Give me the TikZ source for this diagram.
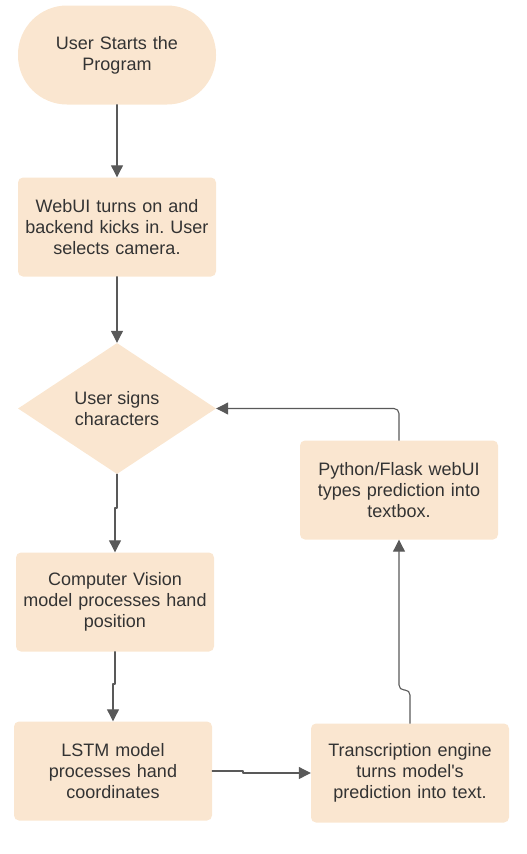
\documentclass[tikz,border=0pt]{standalone}
\usepackage{fontspec}
\setmainfont{Liberation Sans}
\usetikzlibrary{shapes.geometric,arrows.meta}
\definecolor{boxfill}{HTML}{FAE6D0}
\definecolor{inkgrey}{HTML}{333333}
\definecolor{linegrey}{HTML}{595959}
\frenchspacing
\begin{document}
\begin{tikzpicture}[x=1pt,y=-1pt,line join=round,line cap=round,
  font=\fontsize{18}{21}\selectfont,
  flowbox/.style={draw=none,fill=boxfill,text=inkgrey,rounded corners=5pt,
    minimum width=198pt,minimum height=99pt,text width=194pt,align=center,inner sep=0pt},
  startbox/.style={flowbox,rounded corners=49pt},
  choice/.style={diamond,draw=none,fill=boxfill,text=inkgrey,
    minimum width=198pt,minimum height=131pt,inner sep=0pt,align=center},
  flow/.style={draw=linegrey,line width=1.1pt,
    -{Triangle[length=12pt,width=12pt]}}]

  \useasboundingbox (0,0) rectangle (527,854);

  % ---- the main column ----------------------------------------------------
  \node[startbox] (start) at (117,55) {User Starts the\\Program};
  \node[flowbox] (webui) at (117,227) {WebUI turns on and\\backend kicks in. User\\selects camera.};
  \node[choice] (signs) at (117,408.5) {User signs\\characters};
  \node[flowbox] (vision) at (115,602) {Computer Vision\\model processes hand\\position};
  \node[flowbox] (lstm) at (113,771) {LSTM model\\processes hand\\coordinates};

  % ---- the right column ---------------------------------------------------
  \node[flowbox] (transcribe) at (410,773) {Transcription engine\\turns model\textquotesingle s\\prediction into text.};
  \node[flowbox] (flask) at (399,490) {Python/Flask webUI\\types prediction into\\textbox.};

  % ---- connectors ---------------------------------------------------------
  \draw[flow] (start.south) -- (webui.north);
  \draw[flow] (webui.south) -- (signs.north);
  \draw[flow] (signs.south) -- (117,508) -- (115,508) -- (vision.north);
  \draw[flow] (vision.south) -- (115,684) -- (113,684) -- (lstm.north);
  \draw[flow] (lstm.east) -- (243,771) -- (243,773) -- (transcribe.west);
  \draw[flow,rounded corners=5pt] (transcribe.north) -- (410,690) -- (399,690) -- (flask.south);
  \draw[flow,rounded corners=5pt] (flask.north) -- (399,408.5) -- (signs.east);

\end{tikzpicture}
\end{document}
